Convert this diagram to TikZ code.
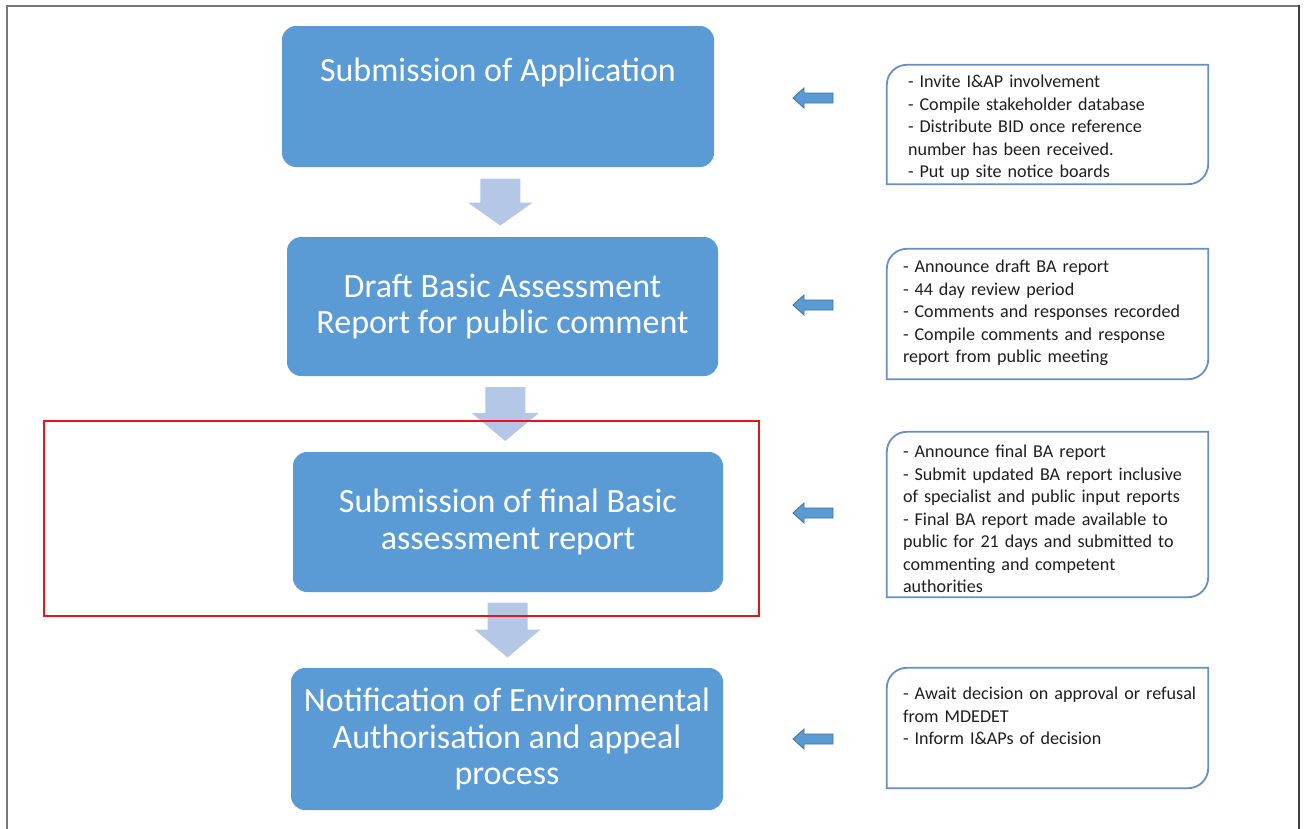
\documentclass[tikz,border=0pt]{standalone}
\usepackage{fontspec}
\setmainfont{Carlito}
\usetikzlibrary{calc}

\definecolor{boxblue}{RGB}{91,155,213}
\definecolor{arrowpale}{RGB}{180,199,231}
\definecolor{arrowedge}{RGB}{65,113,156}
\definecolor{sideedge}{RGB}{105,143,192}
\definecolor{sidetext}{RGB}{30,30,30}
\definecolor{framegray}{RGB}{120,120,120}
\definecolor{hilite}{RGB}{232,20,28}

\tikzset{
  stage/.style={rectangle, rounded corners=14pt, fill=boxblue, text=white,
    font=\fontsize{34}{36.5}\selectfont, align=center, inner sep=0pt},
  sidebox/.style={rectangle, minimum width=321pt, inner sep=0pt},
  sidenote/.style={anchor=base west, text width=310pt, align=left, inner sep=0pt,
    text=sidetext, font=\fontsize{18.1}{22.5}\selectfont},
  sideline/.style={draw=sideedge, line width=1.8pt},
  downblock/.style={fill=arrowpale},
  leftblock/.style={fill=boxblue, draw=arrowedge, line width=0.8pt, line join=miter},
  framerule/.style={draw=framegray, line width=2pt},
  frameshade/.style={draw=black!75, line width=2.5pt},
  focusframe/.style={draw=hilite, line width=2pt},
}

% outline of a note box: rounded top-left and bottom-right corners only
\newcommand\noteoutline[1]{%
  \draw[sideline] let \p1=(#1.north west), \p2=(#1.south east) in
    (\x1,\y1-20pt) .. controls (\x1,\y1-9pt) and (\x1+9pt,\y1) .. (\x1+20pt,\y1)
    -- (\x2,\y1) -- (\x2,\y2+20pt)
    .. controls (\x2,\y2+9pt) and (\x2-9pt,\y2) .. (\x2-20pt,\y2)
    -- (\x1,\y2) -- cycle;}

% pale block arrow pointing down, centred on a coordinate
% #1 centre, #2 half length, #3 head length, #4 head half width
\newcommand\blockdown[4]{%
  \fill[downblock, shift={(#1)}] (-20,-#2) -- (20,-#2) -- (20,#2-#3) -- (#4,#2-#3)
    -- (0,#2) -- (-#4,#2-#3) -- (-20,#2-#3) -- cycle;}

% small block arrow pointing left, centred on a coordinate
\newcommand\blockleft[1]{%
  \filldraw[leftblock, shift={(#1)}] (-20,0) -- (-9,-10) -- (-9,-5) -- (20,-5)
    -- (20,5) -- (-9,5) -- (-9,10) -- cycle;}

\begin{document}
\begin{tikzpicture}[x=1pt, y=-1pt]
\useasboundingbox (0,0) rectangle (1304,828);

% page frame
\draw[framerule] (7,840) -- (7,6) -- (1299,6);
\draw[frameshade] (1299,5) -- (1299,840);

% process stages
\node[stage, minimum width=432pt, minimum height=141pt] (m1) at (498,96.5)
  {\raisebox{24pt}[\height][\depth]{Submission of Application}};
\node[stage, minimum width=431pt, minimum height=139pt] (m2) at (502.5,306.5)
  {Draft Basic Assessment\\Report for public comment};
\node[stage, minimum width=430pt, minimum height=140pt] (m3) at (508,522)
  {Submission of final Basic\\assessment report};
\node[stage, minimum width=432pt, minimum height=142pt] (m4) at (507,739)
  {Notification of Environmental\\Authorisation and appeal\\process};

% arrows between stages
\coordinate (d1) at ($(m1.south)!0.5!(m2.north)$);
\coordinate (d2) at ($(m2.south)!0.5!(m3.north)$);
\coordinate (d3) at ($(m3.south)!0.5!(m4.north)$);
\blockdown{d1}{23.5}{23}{32.5}
\blockdown{d2}{27}{28}{33.5}
\blockdown{d3}{27.5}{28}{33}

% note boxes
\node[sidebox, minimum height=119pt] (s1) at (1047.5,124.5) {};
\node[sidebox, minimum height=130pt] (s2) at (1047.5,314) {};
\node[sidebox, minimum height=165pt] (s3) at (1047.5,514.5) {};
\node[sidebox, minimum height=120pt] (s4) at (1047.5,728) {};
\noteoutline{s1}
\noteoutline{s2}
\noteoutline{s3}
\noteoutline{s4}

\node[sidenote] (t1) at ([xshift=21pt, yshift=-23pt]s1.north west)
  {- Invite I\&AP involvement\\- Compile stakeholder database\\- Distribute BID once reference\\number has been received.\\- Put up site notice boards};
\node[sidenote] (t2) at ([xshift=16pt, yshift=-24pt]s2.north west)
  {- Announce draft BA report\\- 44 day review period\\- Comments and responses recorded\\- Compile comments and response\\report from public meeting};
\node[sidenote] (t3) at ([xshift=16pt, yshift=-26pt]s3.north west)
  {- Announce final BA report\\- Submit updated BA report inclusive\\of specialist and public input reports\\- Final BA report made available to\\public for 21 days and submitted to\\commenting and competent\\authorities};
\node[sidenote] (t4) at ([xshift=16pt, yshift=-32pt]s4.north west)
  {- Await decision on approval or refusal\\from MDEDET\\- Inform I\&APs of decision};

% arrows from notes to stages
\coordinate (l1) at (813,98);
\coordinate (l2) at (813,305);
\coordinate (l3) at (813,513);
\coordinate (l4) at (813,739);
\blockleft{l1}
\blockleft{l2}
\blockleft{l3}
\blockleft{l4}

% highlight around the current stage
\draw[focusframe] (44,421) rectangle (759,616);
\end{tikzpicture}
\end{document}
